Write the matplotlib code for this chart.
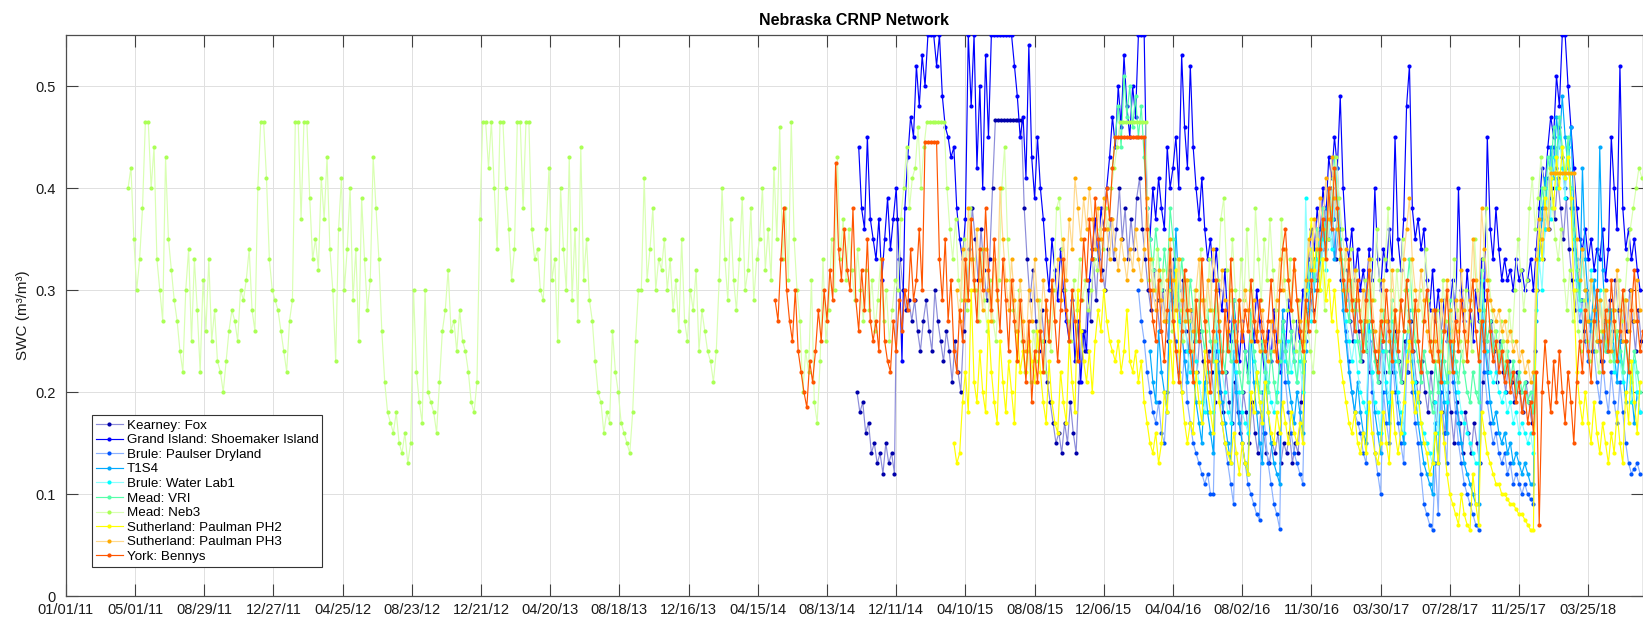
import numpy as np
import pandas as pd
import matplotlib
matplotlib.use("Agg")
import matplotlib.pyplot as plt

plt.rcParams['font.family'] = ['Liberation Sans', 'DejaVu Sans']

# Soil water content (vol. %) sampled every 5 days from each site's start date
site_names = ["Kearney: Fox", "Grand Island: Shoemaker Island", "Brule: Paulser Dryland",
              "T1S4", "Brule: Water Lab1", "Mead: VRI", "Mead: Neb3",
              "Sutherland: Paulman PH2", "Sutherland: Paulman PH3", "York: Bennys"]
site_starts = ["2014-10-04", "2014-10-07", "2016-02-04", "2016-02-24", "2016-04-09",
               "2015-12-21", "2011-04-19", "2015-03-21", "2015-03-26", "2014-05-15"]

kearney_fox = [
    20, 18, 19, 16, 17, 14, 15, 13, 14, 12, 15, 13, 14, 12, 37, 33, 30, 28, 29, 27,
    29, 26, 24, 27, 29, 26, 24, 30, 27, 25, 23, 26, 24, 21, 25, 22, 20, 26, 30, 34,
    38, 35, 31, 36, 32, 29, 33, 40, 46.7, 46.7, 46.7, 46.7, 46.7, 46.7, 46.7, 46.7, 46.7, 46.7,
    38, 33, 29, 32, 27, 24, 28, 25, 21, 19, 17, 15, 16, 14, 17, 15, 19, 16, 14, 21,
    26, 24, 30, 27, 33, 29, 35, 32, 30, 34, 37, 33, 36, 40, 35, 38, 33, 37, 34, 39,
    41, 36, 33, 30, 28, 32, 29, 26, 30, 27, 25, 29, 33, 30, 27, 31, 26, 24, 28, 25,
    22, 26, 23, 21, 24, 22, 19, 23, 20, 18, 22, 19, 17, 21, 18, 16, 20, 18, 15, 19,
    16, 14, 18, 16, 14, 13, 15, 14, 16, 13, 15, 14, 16, 13, 15, 14, 19, 23, 26, 30,
    28, 33, 36, 32, 38, 35, 40, 37, 33, 36, 31, 28, 32, 27, 25, 29, 26, 23, 27, 24,
    22, 26, 23, 21, 25, 22, 27, 24, 22, 26, 23, 21, 25, 22, 27, 24, 21, 19, 23, 20,
    18, 22, 19, 17, 21, 18, 16, 20, 18, 15, 19, 17, 14, 18, 16, 14, 17, 15, 13, 21,
    25, 22, 27, 24, 21, 25, 22, 20, 23, 21, 19, 22, 20, 18, 21, 19, 17, 24, 30, 35,
    33, 38, 36, 40, 37, 41, 38, 35, 39, 34, 31, 28, 32, 29, 26, 30, 27, 24, 28, 25,
    23, 27, 24, 29, 26, 31, 28, 25, 29, 26, 30, 27, 24, 28, 25]

grand_island = [
    44, 38, 36, 45, 37, 35, 33, 37, 31, 35, 39, 34, 37, 40, 33, 23, 38, 43, 47, 45,
    52, 48, 53, 50, 55, 55, 55, 52, 55, 49, 46, 45, 43, 44, 38, 35, 33, 37, 55, 48,
    55, 42, 50, 40, 53, 45, 55, 55, 55, 55, 55, 55, 55, 55, 52, 49, 45, 47, 41, 54,
    43, 39, 45, 40, 37, 33, 30, 35, 32, 29, 34, 30, 27, 25, 29, 23, 27, 21, 26, 24,
    31, 34, 37, 33, 38, 36, 40, 43, 47, 44, 50, 46, 53, 48, 45, 50, 47, 55, 55, 55,
    38, 35, 40, 37, 41, 38, 36, 44, 40, 42, 45, 40, 53, 46, 42, 52, 44, 40, 37, 41,
    36, 33, 35, 31, 34, 30, 28, 32, 27, 25, 29, 26, 23, 27, 24, 22, 28, 25, 30, 27,
    24, 21, 26, 23, 28, 25, 22, 27, 24, 29, 26, 23, 27, 25, 30, 28, 33, 36, 34, 38,
    35, 40, 37, 43, 41, 45, 42, 49, 40, 35, 33, 36, 31, 34, 30, 32, 29, 34, 31, 40,
    33, 30, 34, 32, 36, 33, 45, 35, 32, 37, 48, 52, 38, 35, 37, 34, 36, 31, 28, 32,
    27, 30, 26, 29, 25, 28, 31, 27, 40, 30, 27, 32, 28, 25, 30, 27, 33, 29, 45, 36,
    33, 38, 34, 31, 33, 31, 32, 30, 33, 31, 32, 30, 31, 33, 30, 34, 38, 42, 40, 44,
    47, 45, 51, 48, 55, 55, 50, 46, 42, 38, 35, 34, 36, 33, 35, 32, 34, 33, 36, 31,
    34, 45, 40, 36, 52, 38, 34, 36, 33, 35, 32, 30]

brule_paulser = [
    30, 27, 25, 22, 20, 18, 17, 19, 16, 15, 20, 30, 27, 25, 22, 20, 24, 19, 17, 15,
    14, 13, 12, 11, 12, 10, 10, 24, 20, 17, 15, 13, 11, 9, 22, 18, 15, 13, 11, 10,
    9, 8, 7.5, 20, 16, 13, 11, 9, 8, 6.6, 25, 21, 18, 16, 14, 13, 12, 11, 25, 28,
    30, 33, 31, 36, 34, 38, 35, 40, 37, 42, 36, 30, 26, 23, 20, 18, 17, 16, 14, 13,
    25, 20, 14, 12, 10, 20, 17, 15, 24, 20, 17, 15, 13, 22, 25, 20, 17, 15, 12, 9,
    8, 7, 6.5, 13, 8, 20, 16, 13, 25, 21, 18, 15, 13, 11, 10, 9, 8, 7, 6.5, 28,
    22, 19, 17, 15, 16, 14, 13, 14, 12, 13, 11, 12, 11, 10, 11, 10, 9.5, 9, 30, 35,
    38, 36, 41, 39, 44, 42, 46, 43, 40, 44, 38, 34, 30, 27, 29, 25, 23, 27, 24, 21,
    19, 23, 20, 18, 22, 19, 17, 21, 18, 15, 13, 12, 12.5, 13, 12]

t1s4 = [
    24, 21, 19, 26, 22, 20, 18, 32, 28, 36, 30, 26, 23, 21, 27, 22, 19, 17, 15, 21,
    18, 16, 14, 27, 22, 19, 17, 15, 13, 24, 20, 17, 15, 13, 12, 26, 21, 18, 15, 13,
    22, 18, 15, 13, 12, 11, 28, 24, 21, 19, 17, 20, 18, 16, 24, 29, 33, 30, 35, 32,
    37, 34, 39, 36, 33, 38, 33, 28, 25, 22, 20, 18, 21, 18, 16, 15, 27, 22, 18, 16,
    14, 24, 20, 17, 26, 22, 19, 17, 15, 25, 28, 23, 20, 17, 15, 13, 12, 11, 10, 17,
    13, 23, 19, 16, 27, 23, 20, 17, 15, 13, 12, 11, 10, 9, 9, 30, 25, 22, 19, 17,
    18, 16, 15, 16, 14, 15, 13, 14, 13, 12, 13, 12, 11, 11, 27, 33, 37, 41, 38, 44,
    41, 47, 44, 49, 45, 42, 46, 38, 33, 29, 42, 33, 29, 26, 31, 27, 44, 32, 27, 24,
    28, 24, 21, 25, 22, 19, 23, 20, 17, 20, 18]

brule_waterlab = [
    30, 27, 25, 28, 24, 22, 26, 23, 21, 19, 18, 22, 20, 18, 28, 24, 22, 20, 18, 17,
    26, 22, 20, 18, 17, 16, 27, 23, 21, 19, 17, 24, 21, 19, 18, 20, 23, 26, 23, 25,
    22, 24, 21, 23, 20, 39, 30, 27, 31, 33, 30, 35, 32, 37, 34, 39, 36, 33, 30, 27,
    25, 23, 25, 22, 20, 19, 18, 26, 22, 19, 18, 16, 24, 21, 19, 27, 23, 20, 18, 16,
    24, 27, 24, 21, 19, 17, 16, 15, 14, 13, 19, 16, 25, 21, 19, 28, 24, 22, 20, 18,
    17, 16, 15, 14, 13, 13, 31, 27, 24, 22, 21, 22, 20, 19, 20, 18, 19, 17, 18, 16,
    17, 16, 15, 16, 14, 28, 33, 30, 36, 40, 37, 43, 40, 45, 42, 39, 44, 40, 35, 31,
    28, 33, 30, 27, 32, 28, 25, 30, 27, 24, 28, 25, 22, 26, 23, 21, 25, 22, 19, 23,
    20, 18]

mead_vri = [
    42, 45, 48, 44, 51, 47, 50, 46, 49, 45, 48, 43, 38, 35, 32, 36, 33, 30, 34, 31,
    38, 35, 32, 29, 33, 30, 27, 31, 28, 25, 29, 26, 24, 28, 25, 23, 30, 27, 24, 22,
    26, 23, 29, 25, 22, 20, 24, 21, 28, 24, 22, 20, 25, 22, 20, 24, 21, 19, 23, 27,
    24, 22, 26, 23, 21, 25, 22, 28, 31, 34, 31, 36, 33, 38, 35, 40, 37, 43, 39, 35,
    32, 29, 27, 31, 28, 25, 23, 27, 24, 30, 26, 23, 21, 25, 28, 24, 22, 29, 25, 23,
    21, 26, 30, 33, 28, 25, 23, 21, 24, 22, 20, 18, 23, 20, 26, 23, 21, 29, 25, 23,
    21, 24, 22, 20, 19, 22, 20, 19, 32, 28, 25, 27, 24, 26, 23, 25, 22, 24, 21, 23,
    20, 22, 20, 21, 19, 20, 18, 30, 36, 40, 38, 43, 41, 46, 43, 47, 44, 41, 45, 40,
    36, 32, 29, 34, 30, 27, 31, 28, 25, 29, 26, 24, 27, 25, 23, 26, 24, 22, 25, 23,
    21, 24, 22, 20]

mead_neb3 = [
    40, 42, 35, 30, 33, 38, 46.5, 46.5, 40, 44, 33, 30, 27, 43, 35, 32, 29, 27, 24, 22,
    30, 34, 25, 33, 28, 22, 31, 26, 33, 25, 28, 23, 22, 20, 23, 26, 28, 27, 25, 30,
    29, 31, 34, 28, 26, 40, 46.5, 46.5, 41, 33, 30, 29, 28, 26, 24, 22, 27, 29, 46.5, 46.5,
    37, 46.5, 46.5, 39, 33, 35, 32, 41, 37, 43, 34, 30, 23, 36, 41, 30, 34, 40, 29, 34,
    25,
    39, 33, 28, 31, 43, 38, 33, 26, 21, 18, 17, 16, 18, 15, 14, 16, 13, 15, 30, 22,
    19, 17, 30, 20, 19, 18, 16, 21, 26, 28, 32, 26, 27, 24, 28, 25, 24, 22, 19, 18,
    21, 37, 46.5, 46.5, 42, 46.5, 40, 34, 46.5, 46.5, 40, 36, 31, 34, 46.5, 46.5, 38, 46.5, 46.5, 36,
    33, 34, 30, 29, 36, 42, 31, 33, 25, 40, 34, 30, 43, 29, 36, 27, 44, 31, 35, 29,
    27, 23, 20, 19, 16, 18, 17, 26, 22, 20, 17, 16, 15, 14, 18, 25, 30, 30,
    41, 31, 34, 38, 30, 33, 32, 35, 30, 33, 28, 31, 26, 35, 27, 25, 30, 28, 32, 24,
    28, 26, 24, 23, 21, 24, 31, 40, 33, 29, 37, 31, 28, 33, 39, 30, 32, 38, 29, 33,
    35, 40, 32, 36, 31, 42, 35, 46, 33, 38, 31, 46.5, 35, 30, 27, 20, 24, 22, 31, 19,
    17, 23, 33, 25, 28, 35, 30, 43, 33, 37, 31, 36, 32, 29, 34, 30, 27, 32, 28, 31,
    26, 29, 33, 27, 30, 25, 28, 31, 30, 37, 40, 44, 38, 41, 42, 46, 40,
    44, 46.5, 46.5, 46.5, 46.5, 46.5, 46.5, 46.5, 40, 36, 33, 37, 31, 29, 35, 28, 38, 33, 30, 27,
    34, 29, 26, 31, 27, 25, 31, 40, 44, 35, 31, 28, 26, 30, 25, 22, 24, 21, 26, 23,
    29, 25, 22, 27, 24, 30, 38, 39, 34, 30, 27, 25, 31, 28, 33, 29, 31, 28, 30, 33,
    32, 36, 34, 38, 36, 40, 42, 44, 46.5, 46.5, 46.5, 46.5, 46.5, 46.5, 46.5, 46.5, 46.5, 46.5,
    31, 33,
    30, 34, 29, 32, 27, 30, 26, 29, 33, 28, 25, 31, 27, 24, 30, 26, 34, 29, 26, 33,
    28, 25, 31, 37, 39, 32, 29, 35, 30, 27, 33, 29, 36, 30, 27, 38, 33, 29, 35, 31,
    37, 32, 28, 25, 37, 31, 28, 33, 27, 24, 29, 26, 23, 27, 24, 22, 26, 30, 33, 28,
    35, 38, 41, 43, 39, 36, 33, 30, 34, 29, 32, 28, 26, 31, 27, 33, 29, 36, 31, 27,
    33, 38, 30, 27, 32, 28,
    35, 30, 26, 33, 28, 25, 30, 27, 34, 29, 25, 23, 28, 24, 31, 27, 22, 26, 33, 28,
    25, 23, 30, 27, 24, 35, 30, 27, 33, 38, 31, 28, 26, 24, 27, 25, 23, 28, 25, 30,
    35, 32, 28, 31, 38, 41, 36, 39, 43, 40, 37, 42, 38, 35, 33, 36, 31, 28, 32, 27,
    30, 26, 24, 29, 25, 23, 27, 24, 22, 26, 30, 25, 23, 28, 26, 31, 27, 29, 33, 36,
    38, 40, 42, 41]

paulman_ph2 = [
    15, 13, 14, 19, 22, 18, 30, 21, 19, 24, 20, 18, 27, 22, 19, 17, 25, 21, 18, 23,
    20, 17, 26, 22, 24, 22, 25, 23, 21, 26, 22, 19, 17, 23, 19, 17, 16, 22, 19, 17,
    25, 21, 18, 30, 26, 23, 21, 24, 20, 25, 28, 26, 30, 27, 25, 24, 23, 25, 22, 24,
    28, 23, 22, 24, 21, 23, 19, 17, 15, 14, 16, 13, 15, 20, 18, 25, 21, 32, 24, 20,
    17, 15, 17, 16, 22, 19, 17, 24, 20, 18, 16, 23, 19, 17, 15, 14, 13, 16, 14, 12,
    15, 13, 12, 20, 18, 22, 19, 17, 21, 18, 16, 15, 18, 16, 19, 17, 15, 18, 16, 15,
    17, 15, 30, 34, 37, 32, 35, 30, 33, 29, 31, 27, 30, 26, 23, 21, 19, 17, 16, 18,
    15, 14, 16, 14, 19, 16, 14, 13, 15, 18, 15, 13, 20, 16, 14, 16, 19, 23, 25, 21,
    18, 20, 17, 15, 14, 12, 13, 16, 13, 18, 15, 12, 10, 9, 8, 7, 10, 8, 7, 6.5,
    12, 9, 7, 18, 16, 14, 13, 12, 11, 11, 10, 10, 9.5, 9, 9, 8.5, 8, 8, 7.5, 7,
    6.5, 6.5, 30, 36, 33, 39, 36, 41, 38, 43, 40, 44, 41, 43, 39, 30, 22, 19, 17, 20,
    17, 15, 19, 16, 14, 17, 15, 13, 16, 14, 18, 15, 13, 20, 17, 23, 19, 16, 21]

paulman_ph3 = [
    30, 27, 34, 29, 38, 33, 30, 36, 31, 28, 34, 30, 27, 33, 29, 40, 35, 31, 28, 33,
    29, 26, 31, 27, 24, 30, 27, 33, 29, 26, 31, 28, 25, 30, 27, 33, 29, 35, 31, 37,
    34, 41, 38, 35, 39, 36, 40, 37, 34, 38, 35, 39, 36, 33, 37, 34, 32, 35, 33, 31,
    34, 32, 36, 33, 31, 34, 39, 33, 30, 28, 32, 29, 27, 31, 35, 31, 28, 33, 29, 27,
    31, 28, 26, 30, 33, 29, 27, 31, 28, 34, 30, 27, 32, 29, 26, 30, 27, 25, 29, 26,
    30, 28, 25, 29, 26, 24, 28, 25, 23, 27, 24, 29, 33, 30, 34, 31, 28, 32, 29, 27,
    25, 31, 35, 32, 37, 34, 39, 36, 41, 37, 43, 39, 36, 33, 30, 34, 31, 28, 32, 29,
    27, 30, 27, 33, 29, 26, 24, 28, 31, 27, 25, 32, 28, 26, 29, 33, 36, 39, 33, 30,
    28, 32, 29, 26, 24, 28, 25, 23, 29, 26, 31, 28, 25, 29, 26, 32, 28, 25, 29, 35,
    31, 28, 38, 34, 31, 29, 28, 27, 28, 26, 27, 25, 26, 24, 25, 23, 24, 22, 23, 21,
    22, 33, 37, 35, 38, 36, 41.5, 41.5, 41.5, 41.5, 41.5, 41.5, 41.5, 41.5, 41.5, 35, 31, 34, 30, 27,
    31, 28, 25, 29, 26, 30, 27, 24, 28, 32, 28, 25, 29, 26, 30, 27, 31, 28]

york_bennys = [
    29, 27, 33, 38, 30, 27, 25, 30, 24, 22, 20, 18.5, 23, 21, 24, 28, 25, 30, 27, 32,
    29, 42.5, 34, 31, 36, 32, 30, 38, 29, 26, 32, 28, 35, 27, 25, 27, 24, 33, 25, 23,
    22, 27, 24, 29, 26, 30, 28, 34, 29, 31, 36, 30, 44.5, 44.5, 44.5, 44.5, 44.5, 33, 29, 35,
    27, 31, 24, 22, 28, 25, 33, 29, 37, 31, 27, 34, 30, 38, 32, 28, 35, 30, 26, 33,
    29, 24, 31, 27, 23, 29, 25, 21, 27, 19, 24, 21, 26, 22, 29, 25, 31, 27, 23, 28,
    33, 28, 25, 30, 27, 23, 29, 35, 31, 37, 33, 39, 35, 31, 36, 40, 37, 42, 45, 45,
    45, 45, 45, 45, 45, 45, 45, 45, 45, 36, 30, 27, 25, 31, 26, 23, 28, 34, 27, 24,
    21, 26, 32, 28, 24, 21, 29, 25, 33, 27, 23, 20, 26, 31, 26, 22, 28, 24, 33, 27,
    23, 29, 25, 28, 26, 31, 27, 25, 29, 26, 24, 27, 31, 26, 23, 30, 34, 36, 31, 28,
    33, 29, 26, 24, 29, 26, 31, 27, 30, 34, 37, 33, 40, 36, 42, 38, 34, 31, 28, 33,
    29, 26, 31, 27, 24, 29, 32, 27, 24, 22, 27, 25, 30, 26, 23, 28, 24, 29, 26, 31,
    27, 24, 29, 25, 22, 27, 30, 25, 23, 28, 24, 21, 26, 30, 25, 22, 27, 24, 29, 26,
    23, 28, 31, 26, 23, 27, 24, 30, 26, 23, 25, 22, 24, 21, 23, 20, 22, 19, 21, 18,
    20, 17, 19, 16, 22, 7, 20, 25, 21, 18, 23, 19, 24, 20, 17, 22, 19, 15, 21, 25,
    22, 28, 24, 21, 27, 30, 25, 22, 28, 24, 31, 27, 23, 26, 30, 25, 22, 28, 32, 27,
    24, 26]

site_values = [kearney_fox, grand_island, brule_paulser, t1s4, brule_waterlab,
               mead_vri, mead_neb3, paulman_ph2, paulman_ph3, york_bennys]

# jet colormap, ten levels
site_colors = [(0, 0, 0.6667), (0, 0, 1), (0, 0.3333, 1), (0, 0.6667, 1), (0, 1, 1),
               (0.3333, 1, 0.6667), (0.6667, 1, 0.3333), (1, 1, 0), (1, 0.6667, 0),
               (1, 0.3333, 0)]

tick_dates = pd.date_range("2011-01-01", periods=23, freq="120D")
x_start = pd.Timestamp("2011-01-01")
x_end = x_start + pd.Timedelta(days=2735)

W, H = 1643, 618
fig = plt.figure(figsize=(W / 100, H / 100), dpi=100)
ax = fig.add_axes([65.8 / W, 22 / H, (W - 65.8) / W, 561 / H])

for i, (name, start, vals, col) in enumerate(zip(site_names, site_starts, site_values, site_colors)):
    dates = pd.date_range(start, periods=len(vals), freq="5D")
    swc = np.asarray(vals, dtype=float) / 100.0
    if i % 2 == 0:
        line_col = tuple(0.45 * c + 0.55 for c in col)
    else:
        line_col = col
    ax.plot(dates, swc, '-', color=line_col, lw=0.85, marker='o', ms=3.0,
            mfc=col, mec=col, mew=0, label=name, zorder=2 + i)

ax.set_xlim(x_start, x_end)
ax.set_ylim(0, 0.55)
ax.set_xticks(tick_dates)
ax.set_xticklabels([d.strftime("%m/%d/%y") for d in tick_dates])
ax.set_yticks([0, 0.1, 0.2, 0.3, 0.4, 0.5])
ax.set_yticklabels(["0", "0.1", "0.2", "0.3", "0.4", "0.5"])

ax.grid(True, color=(0.88, 0.88, 0.88), lw=0.7)
ax.set_axisbelow(True)
ax.tick_params(which='both', direction='in', top=True, right=True, length=8.5,
               width=0.8, color=(0.25, 0.25, 0.25), labelsize=10.5,
               labelcolor=(0.1, 0.1, 0.1))
ax.tick_params(axis='x', pad=5)
ax.tick_params(axis='y', pad=7)
for sp in ax.spines.values():
    sp.set_color((0.3, 0.3, 0.3))
    sp.set_linewidth(0.9)

ax.set_ylabel("SWC (m³/m³)", fontsize=11, color=(0.1, 0.1, 0.1), labelpad=4)
ax.set_title("Nebraska CRNP Network", fontsize=11.5, fontweight='bold', pad=7)

leg = ax.legend(loc='lower left', bbox_to_anchor=(0.0166, 0.0517), fontsize=9.6,
                frameon=True, fancybox=False, framealpha=1, borderpad=0.3,
                labelspacing=0.17, handlelength=2.0, handletextpad=0.3,
                borderaxespad=0, markerscale=1.0)
leg.get_frame().set_edgecolor((0.2, 0.2, 0.2))
leg.get_frame().set_linewidth(0.8)
leg.set_zorder(20)

fig.savefig("out.png", dpi=100)
